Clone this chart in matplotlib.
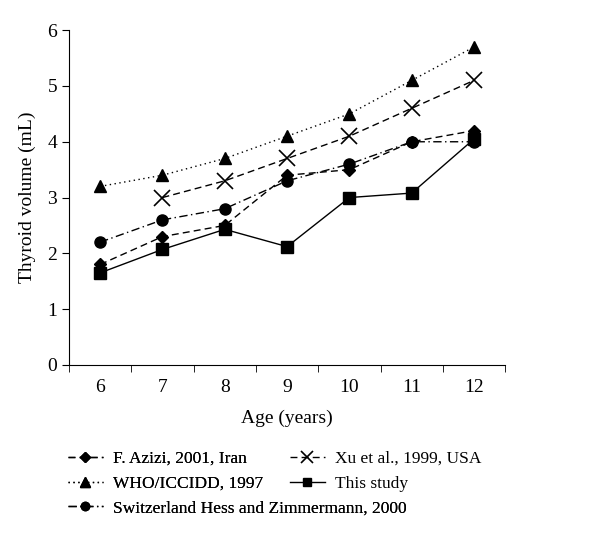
import numpy as np
import matplotlib.pyplot as plt

ages = [6, 7, 8, 9, 10, 11, 12]
azizi = [1.8, 2.3, 2.5, 3.4, 3.5, 4.0, 4.2]
xu = [np.nan, 3.0, 3.3, 3.7, 4.1, 4.6, 5.1]
who = [3.2, 3.4, 3.7, 4.1, 4.5, 5.1, 5.7]
this_study = [1.65, 2.07, 2.43, 2.12, 3.0, 3.08, 4.05]
swiss = [2.2, 2.6, 2.8, 3.3, 3.6, 4.0, 4.0]

plt.rcParams['font.family'] = ['Liberation Serif', 'DejaVu Serif']

fig = plt.figure(figsize=(6, 5.39), dpi=100)
ax = fig.add_axes([0.115, 0.323, 0.727, 0.621])

x = np.arange(len(ages))
k = dict(color='black', lw=1.0)
l1, = ax.plot(x, azizi, ls=(0, (5, 3)), marker='D', ms=6.5, **k)
l2, = ax.plot(x, xu, ls=(0, (5, 3)), marker='x', ms=11, mew=1.2, **k)
l3, = ax.plot(x, who, ls=(0, (1, 2.5)), marker='^', ms=9, **k)
l4, = ax.plot(x, this_study, ls='-', marker='s', ms=8, **k)
l5, = ax.plot(x, swiss, ls=(0, (6, 2.5, 1, 2.5)), marker='o', ms=8, **k)

ax.set_xlim(-0.5, len(ages) - 0.5)
ax.set_ylim(0, 6)
ax.set_xticks(x)
ax.set_xticklabels([str(a) for a in ages])
ax.set_xticks(np.arange(-0.5, len(ages)), minor=True)
ax.tick_params(axis='x', which='major', length=0, labelsize=14, pad=10)
ax.tick_params(axis='x', which='minor', length=5, direction='out')
ax.tick_params(axis='y', labelsize=14, length=5)
ax.set_yticks(range(7))
for s in ['top', 'right']:
    ax.spines[s].set_visible(False)
ax.set_xlabel('Age (years)', fontsize=14, labelpad=10)
ax.set_ylabel('Thyroid volume (mL)', fontsize=14, labelpad=8)

leg_kw = dict(loc='upper left', frameon=False, fontsize=12.5,
              handlelength=2.0, handletextpad=0.6, labelspacing=0.5,
              borderpad=0, borderaxespad=0, markerscale=0.75)
leg1 = fig.legend([l1, l3, l5],
                  ['F. Azizi, 2001, Iran', 'WHO/ICCIDD, 1997',
                   'Switzerland Hess and Zimmermann, 2000'],
                  bbox_to_anchor=(0.113, 0.164), **leg_kw)
fig.add_artist(leg1)
fig.legend([l2, l4], ['Xu et al., 1999, USA', 'This study'],
           bbox_to_anchor=(0.483, 0.164), **leg_kw)

fig.savefig('out.png', dpi=100)
